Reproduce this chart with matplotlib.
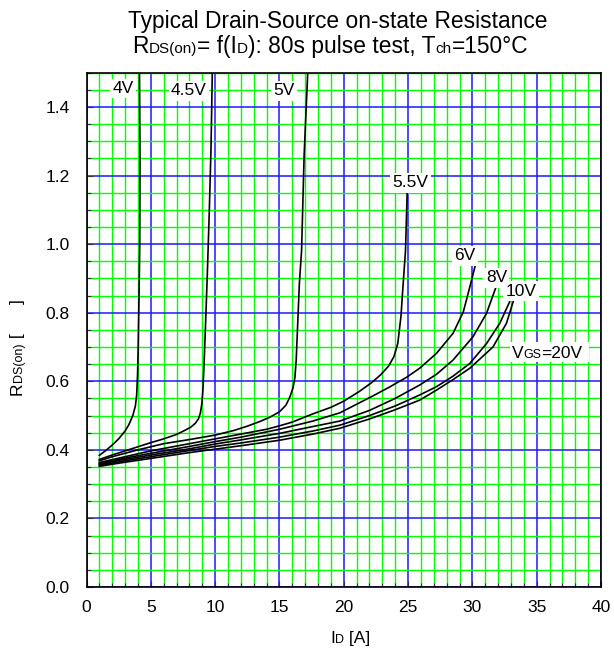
import matplotlib
matplotlib.use('Agg')
import matplotlib.pyplot as plt
from matplotlib.ticker import MultipleLocator, FormatStrFormatter
from matplotlib.transforms import IdentityTransform
from matplotlib.patches import Rectangle

plt.rcParams['font.family'] = ['Liberation Sans', 'DejaVu Sans']

# ---------------- data ----------------
I_4V = [1.0, 1.5, 2.0, 2.5, 3.0, 3.3, 3.6, 3.8, 3.9, 3.97, 4.02, 4.08, 4.14, 4.16, 4.12]
R_4V = [0.384, 0.398, 0.414, 0.432, 0.455, 0.474, 0.50, 0.528, 0.56, 0.62, 0.70, 0.84, 1.0, 1.25, 1.5]

I_45V = [1.0, 2.0, 3.0, 4.0, 5.0, 6.0, 7.0, 7.6, 8.1, 8.45, 8.7, 8.85, 8.97, 9.06, 9.15, 9.25, 9.4, 9.55, 9.68, 9.78]
R_45V = [0.372, 0.385, 0.397, 0.409, 0.421, 0.432, 0.445, 0.456, 0.466, 0.477, 0.49, 0.507, 0.535, 0.58, 0.66, 0.76, 0.92, 1.1, 1.28, 1.5]

I_5V = [1.0, 2.0, 4.0, 6.0, 8.0, 10.0, 11.5, 12.5, 13.5, 14.3, 15.0, 15.5, 15.8, 16.05, 16.2, 16.3, 16.4, 16.55, 16.72, 16.92, 17.2]
R_5V = [0.368, 0.38, 0.40, 0.418, 0.43, 0.443, 0.457, 0.469, 0.483, 0.496, 0.511, 0.53, 0.553, 0.58, 0.61, 0.66, 0.75, 0.886, 0.98, 1.26, 1.5]

I_55V = [1.0, 3.0, 5.0, 8.0, 10.0, 12.0, 14.0, 15.0, 16.0, 17.6, 19.0, 20.0, 21.2, 22.2, 22.9, 23.5, 23.9, 24.2, 24.45, 24.62, 24.8, 24.93]
R_55V = [0.363, 0.38, 0.397, 0.418, 0.432, 0.446, 0.46, 0.47, 0.481, 0.505, 0.524, 0.542, 0.57, 0.597, 0.62, 0.645, 0.672, 0.71, 0.79, 0.885, 0.98, 1.15]

I_6V = [1.0, 3.0, 5.0, 8.0, 10.0, 12.0, 15.0, 17.6, 19.7, 21.0, 22.3, 23.5, 24.9, 25.9, 27.2, 28.5, 29.3, 29.8, 30.2]
R_6V = [0.36, 0.376, 0.39, 0.41, 0.424, 0.437, 0.46, 0.484, 0.508, 0.533, 0.558, 0.582, 0.612, 0.638, 0.681, 0.74, 0.803, 0.875, 0.934]

I_8V = [1.0, 3.0, 5.0, 8.0, 10.0, 12.0, 15.0, 17.6, 19.7, 22.0, 24.0, 25.9, 27.2, 28.5, 30.05, 31.1, 31.8]
R_8V = [0.358, 0.372, 0.385, 0.403, 0.417, 0.429, 0.448, 0.468, 0.484, 0.515, 0.55, 0.589, 0.62, 0.662, 0.73, 0.798, 0.871]

I_10V = [1.0, 3.0, 5.0, 8.0, 10.0, 12.0, 15.0, 17.6, 19.7, 22.0, 24.0, 25.9, 27.2, 28.5, 29.8, 31.1, 32.13, 32.9]
R_10V = [0.355, 0.368, 0.38, 0.398, 0.41, 0.42, 0.437, 0.455, 0.472, 0.5, 0.528, 0.56, 0.584, 0.615, 0.652, 0.71, 0.769, 0.832]

I_20V = [1.0, 3.0, 5.0, 8.0, 10.0, 12.0, 15.0, 17.6, 19.7, 22.0, 24.0, 25.9, 27.2, 28.5, 29.8, 31.6, 32.65, 33.17]
R_20V = [0.352, 0.364, 0.375, 0.392, 0.402, 0.412, 0.428, 0.446, 0.463, 0.49, 0.517, 0.545, 0.574, 0.605, 0.638, 0.70, 0.769, 0.832]

curve_labels = ["4V", "4.5V", "5V", "5.5V", "6V", "8V", "10V"]
label_x = [2.82, 7.96, 15.37, 25.2, 29.4, 31.87, 33.8]
label_y = [1.454, 1.447, 1.447, 1.179, 0.966, 0.902, 0.863]

# ---------------- figure ----------------
W, H = 614, 651
fig = plt.figure(figsize=(W / 100, H / 100), dpi=100)
L, R, T, B = 86.5, 601.0, 72.7, 587.0
ax = fig.add_axes([L / W, (H - B) / H, (R - L) / W, (B - T) / H])

ax.set_xlim(0, 40)
ax.set_ylim(0, 1.5)
ax.xaxis.set_major_locator(MultipleLocator(5))
ax.xaxis.set_minor_locator(MultipleLocator(1))
ax.yaxis.set_major_locator(MultipleLocator(0.2))
ax.yaxis.set_minor_locator(MultipleLocator(0.05))
ax.yaxis.set_major_formatter(FormatStrFormatter('%.1f'))
ax.grid(which='minor', color='#00ff00', lw=1.0, zorder=0)
ax.grid(which='major', color='#1a1aff', lw=1.1, zorder=0)
ax.set_axisbelow(True)
ax.tick_params(which='both', direction='in', top=False, right=False, labelsize=12.5, color='#333333')
ax.tick_params(which='major', length=4, width=0.8)
ax.tick_params(which='minor', length=3, width=0.8)
ax.tick_params(axis='y', which='major', pad=12)
ax.tick_params(axis='x', which='major', pad=9)
for s in ax.spines.values():
    s.set_linewidth(1.2)
    s.set_color('black')

for xs, ys in [(I_4V, R_4V), (I_45V, R_45V), (I_5V, R_5V), (I_55V, R_55V),
               (I_6V, R_6V), (I_8V, R_8V), (I_10V, R_10V), (I_20V, R_20V)]:
    ax.plot(xs, ys, color='black', lw=1.2, zorder=3, solid_joinstyle='round')

for lab, lx, ly in zip(curve_labels, label_x, label_y):
    ax.text(lx, ly, lab, fontsize=12.5, ha='center', va='center', zorder=4,
            bbox=dict(facecolor='white', edgecolor='none', pad=1.8))

renderer = fig.canvas.get_renderer()


def advance(s, fs):
    t1 = fig.text(0, 0, s + '|', fontsize=fs)
    t2 = fig.text(0, 0, '|', fontsize=fs)
    w = t1.get_window_extent(renderer).width - t2.get_window_extent(renderer).width
    t1.remove()
    t2.remove()
    return w


def rich(parts, x, y, rotation=0, align='center'):
    widths = [advance(s, fs) for s, fs in parts]
    total = sum(widths)
    start = -total / 2 if align == 'center' else 0
    pos = start
    for (s, fs), w in zip(parts, widths):
        kw = dict(fontsize=fs, ha='left', va='baseline', transform=IdentityTransform(), zorder=5)
        if rotation == 0:
            fig.text(x + pos, y, s, **kw)
        else:
            fig.text(x, y + pos, s, rotation=90, rotation_mode='anchor', **kw)
        pos += w
    return x + start, total


BIG, SMALL = 16.4, 11
fig.text(338, H - 28.3, "Typical Drain-Source on-state Resistance", fontsize=BIG,
         ha='center', va='baseline', transform=IdentityTransform())
rich([("R", BIG), ("DS(on)", SMALL), ("= f(I", BIG), ("D", SMALL),
      ("): 80s pulse test, T", BIG), ("ch", SMALL), ("=150°C", BIG)],
     330.5, H - 53.3)

# x label
rich([("I", 12.5), ("D", 9), (" [A]", 12.5)], 350, H - 643)
# y label
rich([("R", 12.5), ("DS(on)", 9), (" [      ]", 12.5)], 22, H - 395, rotation=90, align='left')

# VGS=20V label with a single white box
px, py = ax.transData.transform((35.8, 0.686))
base = py - 6
x0, tw = rich([("V", 12.5), ("GS", 9), ("=20V", 12.5)], px, base)
fig.add_artist(Rectangle((x0 - 2, base - 4), tw + 9, 20, transform=IdentityTransform(),
                         facecolor='white', edgecolor='none', zorder=4))

fig.savefig('out.png', dpi=100)
